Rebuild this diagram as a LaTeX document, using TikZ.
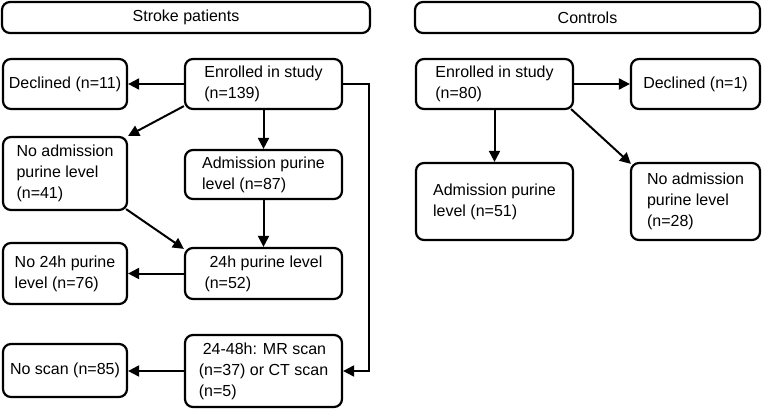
\documentclass[tikz,border=0pt]{standalone}
\usepackage{fontspec}
\setmainfont{Liberation Sans}
\usetikzlibrary{arrows.meta,calc}
\begin{document}
\begin{tikzpicture}[x=1pt,y=-1pt,
  box/.style={draw, line width=2.2pt, rounded corners=8pt, inner sep=0pt,
    align=left, font=\fontsize{16}{21}\selectfont},
  arr/.style={line width=2pt, -{Triangle[length=11pt,width=11pt]}}]
\useasboundingbox[fill=white] (0,0) rectangle (762,409);
% headers
\node[box, align=center, minimum width=368pt, minimum height=31pt] (hs) at (186,17.5) {Stroke patients};
\node[box, align=center, minimum width=345pt, minimum height=31pt] (hc) at (587.5,17.5) {Controls};
% stroke patients
\node[box, minimum width=124pt, minimum height=50pt] (d11) at (65,84) {Declined (n=11)};
\node[box, minimum width=157pt, minimum height=50pt] (e139) at (263.5,84) {Enrolled in study\\(n=139)};
\node[box, minimum width=124pt, minimum height=73pt] (na41) at (65,173.5) {No admission\\purine level\\(n=41)};
\node[box, minimum width=157pt, minimum height=49pt] (adm87) at (263.5,174.5) {Admission purine\\level (n=87)};
\node[box, minimum width=157pt, minimum height=51pt] (p24) at (263.5,273.5) {\hspace*{5pt}24h purine level\\(n=52)};
\node[box, minimum width=124pt, minimum height=61pt] (no24) at (65,273.5) {No 24h purine\\level (n=76)};
\node[box, minimum width=157pt, minimum height=72pt] (scan) at (263.5,371) {\hspace*{4pt}24-48h: MR scan\\(n=37) or CT scan\\(n=5)};
\node[box, minimum width=124pt, minimum height=53pt] (noscan) at (65,370.5) {No scan (n=85)};
% controls
\node[box, minimum width=157pt, minimum height=50pt] (e80) at (494.5,84) {Enrolled in study\\(n=80)};
\node[box, minimum width=129pt, minimum height=50pt] (d1) at (695.5,84) {Declined (n=1)};
\node[box, minimum width=157pt, minimum height=77pt] (adm51) at (494.5,201.5) {Admission purine\\level (n=51)};
\node[box, minimum width=129pt, minimum height=77pt] (na28) at (695.5,201.5) {No admission\\purine level\\(n=28)};
% connectors stroke
\draw[arr] (e139.west) -- (d11.east);
\draw[arr] ($(e139.south west)+(0,-4)$) -- ($(na41.north east)+(0,0)$);
\draw[arr] (e139.south) -- (adm87.north);
\draw[arr] (adm87.south) -- (p24.north);
\draw[arr] ($(na41.south east)+(-2,-2)$) -- ($(p24.north west)+(0,2)$);
\draw[arr] (p24.west) -- (no24.east);
\draw[arr] (scan.west) -- (noscan.east |- scan.west);
\coordinate (rt) at (369,84);
\draw[arr] (e139.east) -- (rt) |- (scan.east);
% connectors controls
\draw[arr] (e80.east) -- (d1.west);
\draw[arr] (e80.south) -- (adm51.north);
\draw[arr] ($(e80.south east)+(-3,-1)$) -- ($(na28.north west)+(1,2)$);
\end{tikzpicture}
\end{document}
